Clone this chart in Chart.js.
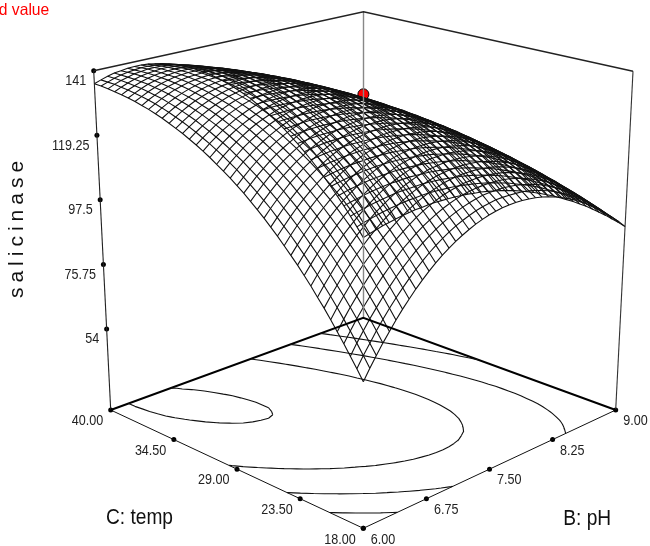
<!DOCTYPE html>
<html>
<head>
<meta charset="utf-8">
<title>salicinase</title>
<script src="https://cdn.jsdelivr.net/npm/chart.js@4/dist/chart.umd.min.js"></script>
<style>
  body { margin: 0; background: #fff; }
  canvas { display: block; }
</style>
</head>
<body>
<canvas id="surface" width="650" height="546"></canvas>
<script>
const phTicks = [6.00, 6.75, 7.50, 8.25, 9.00];
const phLabels = ['6.00', '6.75', '7.50', '8.25', '9.00'];
const tempTicks = [18.00, 23.50, 29.00, 34.50, 40.00];
const tempLabels = ['18.00', '23.50', '29.00', '34.50', '40.00'];
const salicinaseTicks = [54, 75.75, 97.5, 119.25, 141];
const salicinaseLabels = ['54', '75.75', '97.5', '119.25', '141'];
const contourLevels = [86.5, 103.5, 121, 138.6];

const designPh = [7.5];
const designTemp = [29];
const designSalicinase = [134.6];

const phGrid = [6.000, 6.075, 6.150, 6.225, 6.300, 6.375, 6.450, 6.525, 6.600, 6.675, 6.750, 6.825, 6.900, 6.975, 7.050, 7.125, 7.200, 7.275, 7.350, 7.425, 7.500, 7.575, 7.650, 7.725, 7.800, 7.875, 7.950, 8.025, 8.100, 8.175, 8.250, 8.325, 8.400, 8.475, 8.550, 8.625, 8.700, 8.775, 8.850, 8.925, 9.000];
const tempGrid = [18.00, 18.55, 19.10, 19.65, 20.20, 20.75, 21.30, 21.85, 22.40, 22.95, 23.50, 24.05, 24.60, 25.15, 25.70, 26.25, 26.80, 27.35, 27.90, 28.45, 29.00, 29.55, 30.10, 30.65, 31.20, 31.75, 32.30, 32.85, 33.40, 33.95, 34.50, 35.05, 35.60, 36.15, 36.70, 37.25, 37.80, 38.35, 38.90, 39.45, 40.00];
// one row per temp, one column per pH
const salicinase = [
  [70.6,73.9,77.0,80.0,82.8,85.5,88.1,90.5,92.8,94.9,96.9,98.7,100.4,101.9,103.3,104.5,105.6,106.6,107.4,108.1,108.6,109.0,109.2,109.3,109.2,109.0,108.7,108.2,107.6,106.8,105.9,104.8,103.6,102.2,100.7,99.0,97.2,95.3,93.2,91.0,88.6],
  [73.8,77.0,80.0,83.0,85.8,88.4,90.9,93.2,95.4,97.5,99.4,101.2,102.8,104.3,105.6,106.8,107.8,108.7,109.5,110.1,110.5,110.9,111.0,111.0,110.9,110.7,110.3,109.7,109.0,108.2,107.2,106.0,104.8,103.3,101.8,100.1,98.2,96.2,94.0,91.8,89.3],
  [76.8,80.0,83.0,85.9,88.6,91.2,93.6,95.9,98.0,100.0,101.9,103.6,105.1,106.5,107.8,108.9,109.9,110.7,111.4,112.0,112.4,112.6,112.7,112.7,112.5,112.2,111.7,111.1,110.4,109.5,108.4,107.2,105.9,104.4,102.8,101.0,99.1,97.0,94.8,92.4,89.9],
  [79.8,82.9,85.9,88.7,91.3,93.8,96.2,98.4,100.5,102.5,104.2,105.9,107.4,108.7,109.9,111.0,111.9,112.7,113.3,113.8,114.1,114.3,114.4,114.3,114.1,113.7,113.1,112.5,111.6,110.7,109.6,108.3,106.9,105.4,103.7,101.8,99.9,97.7,95.5,93.0,90.5],
  [82.7,85.8,88.7,91.4,94.0,96.5,98.8,100.9,102.9,104.8,106.5,108.1,109.6,110.9,112.0,113.0,113.9,114.6,115.1,115.6,115.8,116.0,116.0,115.8,115.5,115.1,114.5,113.7,112.8,111.8,110.6,109.3,107.9,106.3,104.5,102.6,100.6,98.4,96.0,93.6,90.9],
  [85.6,88.6,91.4,94.1,96.6,99.0,101.2,103.4,105.3,107.1,108.8,110.3,111.7,112.9,114.0,114.9,115.7,116.4,116.9,117.3,117.5,117.5,117.5,117.2,116.9,116.4,115.7,114.9,114.0,112.9,111.6,110.3,108.7,107.1,105.3,103.3,101.2,99.0,96.6,94.0,91.3],
  [88.4,91.3,94.0,96.7,99.1,101.5,103.6,105.7,107.6,109.3,110.9,112.4,113.7,114.9,115.9,116.8,117.5,118.1,118.5,118.8,119.0,119.0,118.9,118.6,118.2,117.6,116.9,116.0,115.0,113.9,112.6,111.1,109.6,107.8,105.9,103.9,101.8,99.5,97.0,94.4,91.7],
  [91.0,93.9,96.6,99.2,101.6,103.8,106.0,107.9,109.8,111.5,113.0,114.4,115.7,116.8,117.7,118.6,119.2,119.8,120.1,120.4,120.5,120.4,120.2,119.9,119.4,118.8,118.0,117.1,116.0,114.8,113.4,111.9,110.3,108.5,106.6,104.5,102.3,99.9,97.4,94.7,91.9],
  [93.7,96.5,99.1,101.6,103.9,106.2,108.2,110.1,111.9,113.5,115.0,116.4,117.5,118.6,119.5,120.3,120.9,121.3,121.7,121.8,121.9,121.8,121.5,121.1,120.5,119.9,119.0,118.0,116.9,115.6,114.2,112.7,110.9,109.1,107.1,105.0,102.7,100.2,97.7,94.9,92.1],
  [96.2,98.9,101.5,103.9,106.2,108.4,110.4,112.2,113.9,115.5,116.9,118.2,119.3,120.3,121.2,121.9,122.4,122.8,123.1,123.2,123.2,123.0,122.7,122.2,121.6,120.9,120.0,118.9,117.7,116.4,114.9,113.3,111.5,109.6,107.5,105.3,103.0,100.5,97.9,95.1,92.1],
  [98.7,101.3,103.8,106.2,108.4,110.5,112.5,114.3,115.9,117.4,118.8,120.0,121.1,122.0,122.8,123.4,123.9,124.2,124.4,124.5,124.4,124.2,123.8,123.3,122.6,121.8,120.8,119.7,118.5,117.1,115.5,113.8,112.0,110.0,107.9,105.7,103.2,100.7,98.0,95.1,92.1],
  [101.0,103.6,106.1,108.4,110.6,112.6,114.5,116.2,117.8,119.3,120.5,121.7,122.7,123.6,124.3,124.9,125.3,125.6,125.7,125.7,125.6,125.3,124.8,124.2,123.5,122.6,121.6,120.4,119.1,117.7,116.1,114.3,112.4,110.4,108.2,105.9,103.4,100.8,98.0,95.1,92.1],
  [103.3,105.9,108.3,110.5,112.6,114.6,116.4,118.1,119.6,121.0,122.2,123.3,124.3,125.1,125.7,126.2,126.6,126.8,126.9,126.9,126.6,126.3,125.8,125.1,124.3,123.4,122.3,121.1,119.7,118.2,116.5,114.7,112.8,110.7,108.4,106.1,103.5,100.8,98.0,95.1,91.9],
  [105.6,108.0,110.4,112.6,114.6,116.5,118.3,119.9,121.4,122.7,123.9,124.9,125.8,126.5,127.1,127.6,127.9,128.0,128.0,127.9,127.6,127.2,126.7,126.0,125.1,124.1,123.0,121.7,120.2,118.7,116.9,115.1,113.0,110.9,108.6,106.1,103.5,100.8,97.9,94.9,91.7],
  [107.7,110.1,112.4,114.5,116.5,118.4,120.1,121.6,123.0,124.3,125.4,126.4,127.2,127.9,128.4,128.8,129.0,129.1,129.1,128.9,128.6,128.1,127.5,126.7,125.8,124.7,123.5,122.2,120.7,119.0,117.2,115.3,113.2,111.0,108.7,106.1,103.5,100.7,97.7,94.7,91.4],
  [109.8,112.2,114.4,116.4,118.4,120.1,121.8,123.3,124.6,125.8,126.9,127.8,128.5,129.1,129.6,130.0,130.1,130.2,130.1,129.8,129.4,128.9,128.2,127.4,126.4,125.3,124.0,122.6,121.0,119.3,117.5,115.5,113.3,111.1,108.6,106.1,103.4,100.5,97.5,94.3,91.0],
  [111.8,114.1,116.2,118.2,120.1,121.8,123.4,124.8,126.1,127.2,128.2,129.1,129.8,130.3,130.8,131.0,131.1,131.1,131.0,130.6,130.2,129.6,128.8,127.9,126.9,125.7,124.4,122.9,121.3,119.5,117.6,115.6,113.4,111.0,108.6,105.9,103.1,100.2,97.2,93.9,90.6],
  [113.7,115.9,118.0,120.0,121.8,123.4,124.9,126.3,127.5,128.6,129.5,130.3,131.0,131.5,131.8,132.0,132.1,132.0,131.8,131.4,130.9,130.2,129.4,128.5,127.4,126.1,124.7,123.2,121.5,119.7,117.7,115.6,113.4,110.9,108.4,105.7,102.9,99.9,96.8,93.5,90.1],
  [115.6,117.7,119.8,121.6,123.4,125.0,126.4,127.7,128.9,129.9,130.8,131.5,132.1,132.5,132.8,133.0,133.0,132.8,132.5,132.1,131.5,130.8,129.9,128.9,127.7,126.4,125.0,123.4,121.6,119.8,117.7,115.6,113.2,110.8,108.2,105.4,102.5,99.5,96.3,92.9,89.5],
  [117.3,119.4,121.4,123.2,124.9,126.4,127.8,129.1,130.2,131.1,131.9,132.6,133.1,133.5,133.7,133.8,133.7,133.5,133.2,132.7,132.0,131.3,130.3,129.2,128.0,126.7,125.1,123.5,121.7,119.7,117.6,115.4,113.0,110.5,107.8,105.0,102.1,98.9,95.7,92.3,88.8],
  [119.0,121.1,123.0,124.7,126.3,127.8,129.1,130.3,131.4,132.3,133.0,133.6,134.1,134.4,134.5,134.6,134.4,134.2,133.8,133.2,132.5,131.7,130.7,129.5,128.2,126.8,125.2,123.5,121.7,119.7,117.5,115.2,112.8,110.2,107.4,104.6,101.5,98.4,95.1,91.6,88.0],
  [120.6,122.6,124.4,126.2,127.7,129.1,130.4,131.5,132.5,133.3,134.0,134.5,134.9,135.2,135.3,135.3,135.1,134.8,134.3,133.7,132.9,132.0,130.9,129.7,128.4,126.9,125.3,123.5,121.6,119.5,117.3,114.9,112.4,109.8,107.0,104.0,101.0,97.7,94.4,90.8,87.2],
  [122.1,124.1,125.9,127.5,129.0,130.4,131.6,132.6,133.5,134.3,134.9,135.4,135.7,135.9,136.0,135.9,135.6,135.2,134.7,134.0,133.2,132.2,131.1,129.9,128.5,126.9,125.2,123.4,121.4,119.3,117.0,114.6,112.0,109.3,106.4,103.4,100.3,97.0,93.6,90.0,86.3],
  [123.6,125.5,127.2,128.8,130.2,131.5,132.6,133.6,134.5,135.2,135.8,136.2,136.5,136.6,136.6,136.4,136.1,135.6,135.0,134.3,133.4,132.4,131.2,129.9,128.4,126.8,125.1,123.2,121.1,118.9,116.6,114.1,111.5,108.7,105.8,102.7,99.5,96.2,92.7,89.0,85.2],
  [125.0,126.8,128.4,130.0,131.3,132.6,133.6,134.6,135.4,136.0,136.5,136.9,137.1,137.2,137.1,136.9,136.5,136.0,135.3,134.5,133.6,132.5,131.3,129.9,128.3,126.7,124.9,122.9,120.8,118.5,116.1,113.6,110.9,108.1,105.1,102.0,98.7,95.3,91.7,88.0,84.2],
  [126.3,128.0,129.6,131.1,132.4,133.6,134.6,135.5,136.2,136.8,137.2,137.5,137.7,137.7,137.6,137.3,136.8,136.3,135.5,134.7,133.7,132.5,131.2,129.8,128.2,126.5,124.6,122.6,120.4,118.1,115.6,113.0,110.3,107.4,104.3,101.2,97.8,94.3,90.7,87.0,83.0],
  [127.5,129.2,130.7,132.1,133.4,134.5,135.5,136.3,136.9,137.5,137.8,138.1,138.2,138.1,137.9,137.6,137.1,136.4,135.7,134.7,133.7,132.4,131.1,129.6,127.9,126.1,124.2,122.1,119.9,117.5,115.0,112.3,109.5,106.6,103.5,100.2,96.8,93.3,89.6,85.8,81.8],
  [128.7,130.3,131.8,133.1,134.3,135.3,136.2,137.0,137.6,138.1,138.4,138.5,138.6,138.5,138.2,137.8,137.2,136.5,135.7,134.7,133.6,132.3,130.9,129.3,127.6,125.7,123.8,121.6,119.3,116.9,114.3,111.6,108.7,105.7,102.5,99.2,95.8,92.2,88.4,84.5,80.5],
  [129.7,131.3,132.7,134.0,135.1,136.1,136.9,137.6,138.2,138.6,138.8,139.0,138.9,138.8,138.4,138.0,137.3,136.6,135.7,134.6,133.4,132.1,130.6,129.0,127.2,125.3,123.2,121.0,118.7,116.2,113.5,110.8,107.8,104.8,101.5,98.2,94.6,91.0,87.2,83.2,79.1],
  [130.7,132.2,133.6,134.8,135.9,136.8,137.6,138.2,138.7,139.0,139.2,139.3,139.2,138.9,138.6,138.0,137.4,136.5,135.6,134.5,133.2,131.8,130.3,128.6,126.8,124.8,122.7,120.4,118.0,115.4,112.7,109.9,106.9,103.7,100.4,97.0,93.4,89.7,85.9,81.9,77.7],
  [131.7,133.1,134.4,135.5,136.5,137.4,138.1,138.7,139.1,139.4,139.5,139.5,139.4,139.1,138.6,138.0,137.3,136.4,135.4,134.2,132.9,131.4,129.8,128.1,126.2,124.2,122.0,119.6,117.2,114.5,111.8,108.9,105.8,102.6,99.3,95.8,92.1,88.4,84.4,80.4,76.2],
  [132.5,133.9,135.1,136.2,137.1,137.9,138.6,139.1,139.5,139.7,139.8,139.7,139.5,139.1,138.6,138.0,137.2,136.2,135.1,133.9,132.5,131.0,129.3,127.5,125.6,123.5,121.2,118.8,116.3,113.6,110.8,107.8,104.7,101.4,98.0,94.5,90.8,86.9,82.9,78.8,74.5],
  [133.3,134.6,135.8,136.8,137.7,138.4,139.0,139.4,139.7,139.9,139.9,139.8,139.5,139.1,138.5,137.8,136.9,135.9,134.8,133.5,132.1,130.5,128.8,126.9,124.9,122.7,120.4,117.9,115.3,112.6,109.7,106.7,103.5,100.2,96.7,93.1,89.3,85.4,81.4,77.2,72.9],
  [133.9,135.2,136.3,137.3,138.1,138.8,139.3,139.7,139.9,140.0,140.0,139.8,139.4,139.0,138.3,137.6,136.6,135.6,134.4,133.0,131.5,129.9,128.1,126.2,124.1,121.9,119.5,117.0,114.3,111.5,108.6,105.5,102.2,98.9,95.3,91.7,87.8,83.9,79.8,75.5,71.1],
  [134.6,135.7,136.8,137.7,138.5,139.1,139.6,139.9,140.1,140.1,140.0,139.7,139.3,138.8,138.1,137.3,136.3,135.2,133.9,132.5,130.9,129.2,127.4,125.4,123.2,120.9,118.5,115.9,113.2,110.3,107.3,104.2,100.9,97.4,93.8,90.1,86.2,82.2,78.0,73.7,69.3],
  [135.1,136.2,137.2,138.1,138.8,139.3,139.7,140.0,140.1,140.1,139.9,139.6,139.1,138.5,137.8,136.9,135.8,134.7,133.3,131.8,130.2,128.5,126.5,124.5,122.3,119.9,117.4,114.8,112.0,109.1,106.0,102.8,99.5,95.9,92.3,88.5,84.6,80.5,76.2,71.9,67.3],
  [135.5,136.6,137.5,138.3,139.0,139.5,139.8,140.0,140.1,140.0,139.7,139.4,138.8,138.2,137.4,136.4,135.3,134.1,132.7,131.1,129.4,127.6,125.6,123.5,121.3,118.9,116.3,113.6,110.8,107.8,104.6,101.4,97.9,94.4,90.7,86.8,82.8,78.7,74.4,69.9,65.3],
  [135.9,136.9,137.8,138.5,139.1,139.5,139.8,140.0,140.0,139.8,139.5,139.1,138.5,137.8,136.9,135.9,134.7,133.4,131.9,130.3,128.6,126.7,124.7,122.5,120.2,117.7,115.1,112.3,109.4,106.4,103.2,99.9,96.4,92.7,89.0,85.1,81.0,76.8,72.4,67.9,63.3],
  [136.2,137.2,138.0,138.6,139.2,139.5,139.8,139.8,139.8,139.6,139.2,138.7,138.1,137.3,136.3,135.3,134.0,132.7,131.1,129.5,127.7,125.7,123.6,121.4,119.0,116.5,113.8,111.0,108.0,104.9,101.7,98.3,94.7,91.0,87.2,83.2,79.1,74.8,70.4,65.8,61.1],
  [136.5,137.3,138.1,138.7,139.1,139.4,139.6,139.6,139.5,139.2,138.8,138.2,137.5,136.7,135.7,134.6,133.3,131.8,130.3,128.5,126.7,124.7,122.5,120.2,117.8,115.2,112.4,109.6,106.5,103.4,100.0,96.6,93.0,89.2,85.3,81.3,77.1,72.8,68.3,63.7,58.9],
  [136.6,137.4,138.1,138.7,139.0,139.3,139.4,139.4,139.2,138.8,138.4,137.7,137.0,136.1,135.0,133.8,132.4,131.0,129.3,127.5,125.6,123.5,121.3,119.0,116.4,113.8,111.0,108.1,105.0,101.7,98.4,94.8,91.2,87.4,83.4,79.3,75.0,70.7,66.1,61.4,56.6]
];

// box corners on the page, the picture is a plain trilinear box
const floorZ = 26.7;
const boxFloor = { front: [363.3, 528.3], right: [615.7, 410], left: [110.7, 410], back: [363.3, 317.7] };
const boxTop = { front: [363.4, 147], right: [633, 71.3], left: [93.7, 70.7], back: [363.5, 11.7] };

function bilinear(c, a, b, k) {
  return (1 - a) * (1 - b) * c.front[k] + a * (1 - b) * c.right[k] + (1 - a) * b * c.left[k] + a * b * c.back[k];
}

function project(ph, temp, z) {
  const a = (ph - 6) / 3;
  const b = (temp - 18) / 22;
  const w = (z - floorZ) / (141 - floorZ);
  return {
    x: bilinear(boxFloor, a, b, 0) * (1 - w) + bilinear(boxTop, a, b, 0) * w,
    y: bilinear(boxFloor, a, b, 1) * (1 - w) + bilinear(boxTop, a, b, 1) * w
  };
}

function lineSet(data, color, width) {
  return { type: 'scatter', showLine: true, data: data, borderColor: color, borderWidth: width, pointRadius: 0, spanGaps: false, clip: false };
}

// contours on the floor, marching squares over the table
function contourPoints(level) {
  const pts = [];
  const cut = (p1, t1, z1, p2, t2, z2) => {
    const k = (level - z1) / (z2 - z1);
    return project(p1 + (p2 - p1) * k, t1 + (t2 - t1) * k, floorZ);
  };
  for (let r = 0; r < tempGrid.length - 1; r++) {
    for (let c = 0; c < phGrid.length - 1; c++) {
      const p0 = phGrid[c], p1 = phGrid[c + 1], t0 = tempGrid[r], t1 = tempGrid[r + 1];
      const z00 = salicinase[r][c], z10 = salicinase[r][c + 1], z01 = salicinase[r + 1][c], z11 = salicinase[r + 1][c + 1];
      const hits = [];
      if ((z00 < level) !== (z10 < level)) hits.push(cut(p0, t0, z00, p1, t0, z10));
      if ((z10 < level) !== (z11 < level)) hits.push(cut(p1, t0, z10, p1, t1, z11));
      if ((z01 < level) !== (z11 < level)) hits.push(cut(p0, t1, z01, p1, t1, z11));
      if ((z00 < level) !== (z01 < level)) hits.push(cut(p0, t0, z00, p0, t1, z01));
      if (hits.length >= 2) pts.push(hits[0], hits[1], { x: NaN, y: NaN });
    }
  }
  return pts;
}

const datasets = [];

contourLevels.forEach(level => datasets.push(lineSet(contourPoints(level), '#111', 1.1)));

// floor and walls
const zMax = 141;
datasets.push(lineSet([project(6, 40, floorZ), project(9, 40, floorZ), project(9, 18, floorZ)], '#000', 2));
datasets.push(lineSet([project(6, 40, floorZ), project(6, 18, floorZ), project(9, 18, floorZ)], '#111', 1));
datasets.push(lineSet([project(6, 40, zMax), project(9, 40, zMax), project(9, 18, zMax)], '#222', 1.4));
datasets.push(lineSet([project(6, 40, floorZ), project(6, 40, zMax)], '#222', 1.1));
datasets.push(lineSet([project(9, 18, floorZ), project(9, 18, zMax)], '#333', 1.1));
datasets.push(lineSet([project(9, 40, floorZ), project(9, 40, zMax)], '#888', 1.4));

// wire mesh
salicinase.forEach((row, r) => {
  datasets.push(lineSet(row.map((z, c) => project(phGrid[c], tempGrid[r], z)), '#111', 1.1));
});
phGrid.forEach((ph, c) => {
  datasets.push(lineSet(tempGrid.map((t, r) => project(ph, t, salicinase[r][c])), '#111', 1.1));
});

// tick dots
const tickDots = [];
salicinaseTicks.forEach(z => tickDots.push(project(6, 40, z)));
phTicks.forEach(p => tickDots.push(project(p, 18, floorZ)));
tempTicks.forEach(t => tickDots.push(project(6, t, floorZ)));
datasets.push({ type: 'scatter', data: tickDots, pointRadius: 2.5, pointBackgroundColor: '#000', pointBorderWidth: 0, clip: false });

// design point
datasets.push({
  type: 'scatter',
  data: designPh.map((p, i) => project(p, designTemp[i], designSalicinase[i])),
  pointRadius: 5.5, pointBackgroundColor: '#f00', pointBorderColor: '#000', pointBorderWidth: 1, clip: false
});

function squeezed(ctx, text, x, y, font, sx, align, color) {
  ctx.save();
  ctx.translate(x, y);
  ctx.scale(sx, 1);
  ctx.font = font;
  ctx.fillStyle = color;
  ctx.textAlign = align;
  ctx.textBaseline = 'alphabetic';
  ctx.fillText(text, 0, 0);
  ctx.restore();
}

const textPlugin = {
  id: 'surfaceText',
  afterDatasetsDraw(chart) {
    const ctx = chart.ctx;
    const tickFont = '14.8px "Liberation Sans"';
    const titleFont = '22px "Liberation Sans"';
    salicinaseTicks.forEach((z, i) => {
      const p = project(6, 40, z);
      squeezed(ctx, salicinaseLabels[i], p.x - 7.5, p.y + 14.5, tickFont, 0.85, 'right', '#222');
    });
    tempTicks.forEach((t, i) => {
      const p = project(6, t, floorZ);
      squeezed(ctx, tempLabels[i], p.x - 7.5, p.y + 15.2, tickFont, 0.85, 'right', '#222');
    });
    phTicks.forEach((b, i) => {
      const p = project(b, 18, floorZ);
      squeezed(ctx, phLabels[i], p.x + 7.5, p.y + 15.2, tickFont, 0.85, 'left', '#222');
    });
    squeezed(ctx, 'C: temp', 106, 524, titleFont, 0.87, 'left', '#111');
    squeezed(ctx, 'B: pH', 563.3, 525, titleFont, 0.87, 'left', '#111');
    squeezed(ctx, 'd value', 49.3, 15.3, '16.5px "Liberation Sans"', 0.95, 'right', '#f00');

    ctx.save();
    ctx.translate(23.3, 227);
    ctx.rotate(-Math.PI / 2);
    ctx.font = '21px "Liberation Sans"';
    ctx.letterSpacing = '5px';
    ctx.fillStyle = '#111';
    ctx.textAlign = 'center';
    ctx.fillText('salicinase', 0, 0);
    ctx.restore();
  }
};

new Chart(document.getElementById('surface'), {
  type: 'scatter',
  data: { datasets: datasets },
  plugins: [textPlugin],
  options: {
    responsive: false,
    animation: false,
    layout: { padding: 0, autoPadding: false },
    plugins: { legend: { display: false }, tooltip: { enabled: false } },
    scales: {
      x: { type: 'linear', min: 0, max: 650, display: false },
      y: { type: 'linear', min: 0, max: 546, reverse: true, display: false }
    }
  }
});
</script>
</body>
</html>
